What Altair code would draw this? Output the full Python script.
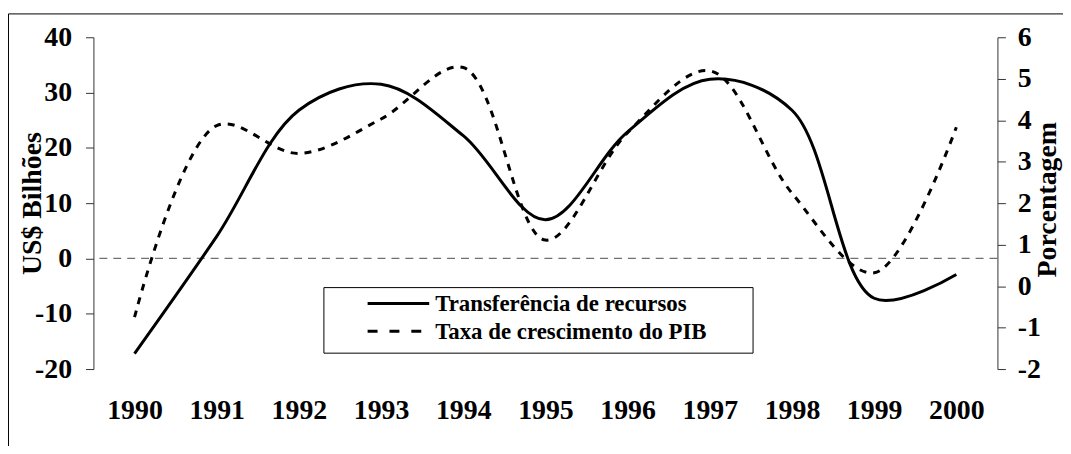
import altair as alt
import pandas as pd

# ---- data ----
years = [1990, 1991, 1992, 1993, 1994, 1995, 1996, 1997, 1998, 1999, 2000]
transferencia = [-17.2, 4.0, 26.8, 31.5, 22.2, 7.0, 22.9, 32.4, 26.8, -7.2, -2.9]
pib = [-0.75, 3.87, 3.2, 4.03, 5.27, 1.11, 3.7, 5.19, 2.24, 0.32, 3.83]
series_names = ["Transferência de recursos", "Taxa de crescimento do PIB"]
left_ticks = [-20, -10, 0, 10, 20, 30, 40]
right_ticks = [-2, -1, 0, 1, 2, 3, 4, 5, 6]

df = pd.DataFrame({"ano": years, "transf": transferencia, "pib": pib})

FONT = "Liberation Serif"
W, H = 910, 334

x_enc = alt.X(
    "ano:Q",
    scale=alt.Scale(domain=[1989.5, 2000.5], nice=False, zero=False),
    axis=alt.Axis(
        values=years, format="d", title=None, grid=False, domain=False,
        ticks=False, tickSize=0, labelFont=FONT, labelFontWeight="bold",
        labelFontSize=28, labelColor="black", labelPadding=28, labelFlush=False,
        labelOverlap=False,
    ),
)

zero_rule = alt.Chart(df).mark_rule(
    color="#707070", strokeWidth=1.3, strokeDash=[8, 6]
).encode(
    y=alt.Y("z:Q", scale=alt.Scale(domain=[-20, 40], nice=False), axis=None)
).transform_calculate(z="0").transform_filter("datum.ano == 1990")

line_t = alt.Chart(df).mark_line(
    color="black", strokeWidth=3, interpolate="catmull-rom"
).encode(
    x=x_enc,
    y=alt.Y(
        "transf:Q",
        scale=alt.Scale(domain=[-20, 40], nice=False, zero=False),
        axis=alt.Axis(
            orient="left", values=left_ticks, grid=False, tickSize=8,
            tickColor="#333333", domainColor="#333333", labelFont=FONT,
            labelFontWeight="bold", labelFontSize=28, labelColor="black",
            labelPadding=14, labelExpr="datum.value + ''",
            title="US$ Bilhões", titleFont=FONT, titleFontWeight="bold",
            titleFontSize=28, titleColor="black", titleAngle=270,
            titleX=-61, titleY=167, titleAlign="center", titleBaseline="middle",
        ),
    ),
)

line_p = alt.Chart(df).mark_line(
    color="black", strokeWidth=3, strokeDash=[7, 7], interpolate="catmull-rom"
).encode(
    x=x_enc,
    y=alt.Y(
        "pib:Q",
        scale=alt.Scale(domain=[-2, 6], nice=False, zero=False),
        axis=alt.Axis(
            orient="right", values=right_ticks, grid=False, tickSize=8,
            tickColor="#333333", domainColor="#333333", labelFont=FONT,
            labelFontWeight="bold", labelFontSize=28, labelColor="black",
            labelPadding=12, labelExpr="datum.value + ''",
            title="Porcentagem", titleFont=FONT, titleFontWeight="bold",
            titleFontSize=28, titleColor="black", titleAngle=270,
            titleX=50, titleY=163, titleAlign="center", titleBaseline="middle",
        ),
    ),
)

one = pd.DataFrame({"k": [0]})

legend_box = alt.Chart(one).mark_rect(
    fill="white", stroke="black", strokeWidth=1
).encode(x=alt.value(232), x2=alt.value(664), y=alt.value(252), y2=alt.value(318))

leg_sym1 = alt.Chart(one).mark_rule(color="black", strokeWidth=3).encode(
    x=alt.value(276), x2=alt.value(338), y=alt.value(268)
)
leg_sym2 = alt.Chart(one).mark_rule(
    color="black", strokeWidth=3, strokeDash=[10, 12]
).encode(x=alt.value(276), x2=alt.value(338), y=alt.value(296))

leg_txt1 = alt.Chart(one).mark_text(
    font=FONT, fontWeight="bold", fontSize=23, align="left", baseline="middle",
    color="black", text=series_names[0]
).encode(x=alt.value(344), y=alt.value(269))
leg_txt2 = alt.Chart(one).mark_text(
    font=FONT, fontWeight="bold", fontSize=23, align="left", baseline="middle",
    color="black", text=series_names[1]
).encode(x=alt.value(344), y=alt.value(297))

frame_v = alt.Chart(one).mark_rule(color="black", strokeWidth=1).encode(
    x=alt.value(-85.5), y=alt.value(-23.5), y2=alt.value(500)
)
frame_h = alt.Chart(one).mark_rule(color="black", strokeWidth=1).encode(
    x=alt.value(-85.5), x2=alt.value(1100), y=alt.value(-23.5)
)

chart = alt.layer(
    frame_v, frame_h, zero_rule, line_t, line_p,
    legend_box, leg_sym1, leg_sym2, leg_txt1, leg_txt2,
).resolve_scale(y="independent").properties(
    width=W, height=H,
    autosize=alt.AutoSizeParams(type="none"),
    padding={"left": 86, "top": 28, "right": 66, "bottom": 76},
).configure_view(stroke=None)

chart.save("out.html", embed_options={"renderer": "svg", "actions": False})
